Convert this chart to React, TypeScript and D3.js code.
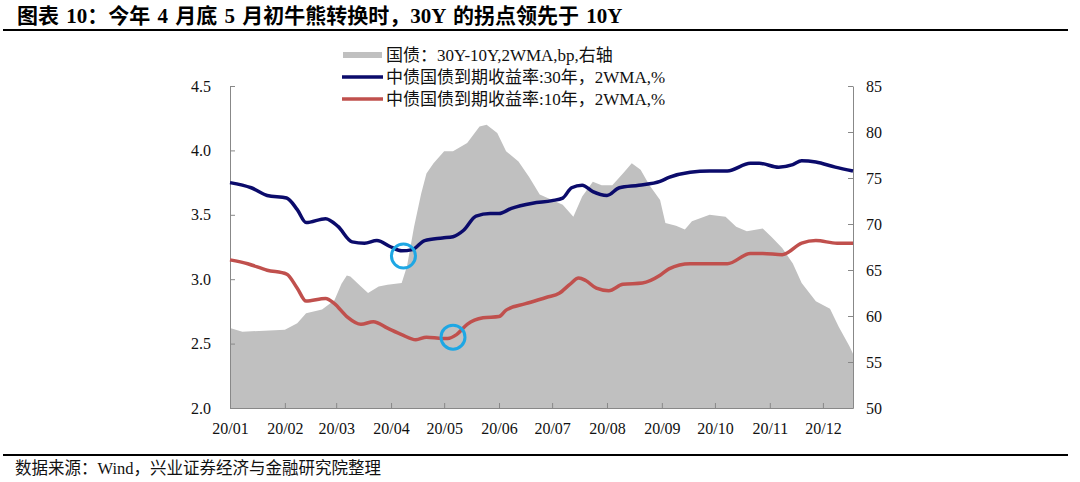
import React, { useRef, useEffect } from "react";
import * as d3 from "d3";

const TITLE = "图表 10：今年 4 月底 5 月初牛熊转换时，30Y 的拐点领先于 10Y";
const SOURCE = "数据来源：Wind，兴业证券经济与金融研究院整理";

const legendLabels = [
  "国债：30Y-10Y,2WMA,bp,右轴",
  "中债国债到期收益率:30年，2WMA,%",
  "中债国债到期收益率:10年，2WMA,%",
];

// 30Y-10Y spread, bp, right axis
const spreadDates = [
  "01-01", "01-08", "02-01", "02-08", "02-13", "02-22", "02-29", "03-04",
  "03-07", "03-09", "03-15", "03-19", "03-25", "03-30", "04-07", "04-10",
  "04-14", "04-18", "04-21", "04-25", "05-01", "05-06", "05-14", "05-21",
  "05-25", "05-31", "06-05", "06-12", "06-18", "06-24", "07-01", "07-07",
  "07-13", "07-18", "07-24", "07-29", "08-04", "08-10", "08-15", "08-20",
  "08-25", "08-31", "09-03", "09-09", "09-14", "09-18", "09-28", "10-07",
  "10-13", "10-19", "10-28", "11-02", "11-08", "11-14", "11-19", "11-27",
  "12-05", "12-10", "12-16", "12-18",
];
const spreadBp = [
  58.7, 58.3, 58.5, 59.2, 60.3, 60.7, 61.7, 63.5,
  64.4, 64.3, 63.2, 62.5, 63.2, 63.4, 63.6, 65.4,
  69.7, 73.3, 75.5, 76.6, 77.9, 77.9, 78.8, 80.6,
  80.8, 79.9, 77.9, 76.8, 75.1, 73.2, 72.6, 72.1,
  70.8, 73.0, 74.6, 74.2, 74.2, 75.5, 76.6, 75.9,
  74.2, 72.6, 70.1, 69.8, 69.4, 70.3, 71.0, 70.8,
  69.7, 69.2, 69.5, 68.6, 67.4, 65.7, 63.6, 61.6,
  60.8, 58.8, 56.7, 55.9,
];

// 30Y yield, %, left axis
const y30Dates = [
  "01-01", "01-13", "01-22", "02-02", "02-08", "02-13", "02-24", "03-02",
  "03-10", "03-17", "03-24", "04-01", "04-07", "04-13", "04-20", "04-30",
  "05-06", "05-12", "05-19", "05-27", "06-01", "06-08", "06-20", "07-01",
  "07-07", "07-12", "07-18", "07-24", "08-01", "08-08", "08-19", "08-31",
  "09-05", "09-17", "09-28", "10-08", "10-21", "10-26", "11-06", "11-14",
  "11-19", "11-27", "12-08", "12-18",
];
const y30Values = [
  3.75, 3.71, 3.65, 3.63, 3.54, 3.44, 3.47, 3.41,
  3.29, 3.28, 3.3, 3.25, 3.22, 3.23, 3.3, 3.32,
  3.33, 3.38, 3.49, 3.51, 3.51, 3.55, 3.59, 3.61,
  3.63, 3.71, 3.73, 3.68, 3.65, 3.71, 3.73, 3.76,
  3.79, 3.83, 3.84, 3.84, 3.9, 3.9, 3.87, 3.89,
  3.92, 3.91, 3.87, 3.84,
];

// 10Y yield, %, left axis
const y10Dates = [
  "01-01", "01-11", "01-22", "02-02", "02-08", "02-13", "02-24", "02-29",
  "03-07", "03-15", "03-22", "03-30", "04-07", "04-15", "04-21", "04-30",
  "05-03", "05-08", "05-14", "05-23", "06-01", "06-05", "06-16", "06-28",
  "07-05", "07-11", "07-16", "07-20", "07-26", "08-02", "08-10", "08-21",
  "08-31", "09-05", "09-17", "10-08", "10-21", "10-28", "11-08", "11-19",
  "11-27", "12-09", "12-18",
];
const y10Values = [
  3.15, 3.12, 3.07, 3.04, 2.93, 2.83, 2.85, 2.81,
  2.71, 2.65, 2.67, 2.62, 2.57, 2.53, 2.55, 2.54,
  2.54, 2.57, 2.65, 2.7, 2.71, 2.76, 2.81, 2.86,
  2.89, 2.96, 3.01, 2.99, 2.93, 2.91, 2.96, 2.97,
  3.03, 3.08, 3.12, 3.12, 3.2, 3.2, 3.19, 3.28,
  3.3, 3.28, 3.28,
];

// turning points marked with circles
const markDates = ["04-08", "05-06"];
const markValues = [3.18, 2.55];

const leftTicks = [2.0, 2.5, 3.0, 3.5, 4.0, 4.5];
const rightTicks = [50, 55, 60, 65, 70, 75, 80, 85];

const parseDay = d3.timeParse("%Y-%m-%d");
const toDate = (s: string) => parseDay("2020-" + s) as Date;

const GRAY = "#c0c0c0";
const NAVY = "#0b0b6b";
const RED = "#c0504d";
const CYAN = "#1ea7e4";
const SERIF = "'Liberation Serif', 'Noto Sans CJK SC', serif";

export default function App() {
  const xAxisRef = useRef<SVGGElement>(null);
  const leftAxisRef = useRef<SVGGElement>(null);
  const rightAxisRef = useRef<SVGGElement>(null);

  const width = 1080;
  const height = 482;
  const plot = { left: 230, right: 853, top: 86, bottom: 408 };

  const x = d3
    .scaleTime()
    .domain([toDate("01-01"), toDate("12-18")])
    .range([plot.left, plot.right]);
  const yL = d3.scaleLinear().domain([2, 4.5]).range([plot.bottom, plot.top]);
  const yR = d3.scaleLinear().domain([50, 85]).range([plot.bottom, plot.top]);

  const spread = spreadDates.map((d, i) => ({ date: toDate(d), v: spreadBp[i] }));
  const y30 = y30Dates.map((d, i) => ({ date: toDate(d), v: y30Values[i] }));
  const y10 = y10Dates.map((d, i) => ({ date: toDate(d), v: y10Values[i] }));

  const area = d3
    .area<{ date: Date; v: number }>()
    .x((d) => x(d.date))
    .y0(yR(50))
    .y1((d) => yR(d.v));

  const line = d3
    .line<{ date: Date; v: number }>()
    .x((d) => x(d.date))
    .y((d) => yL(d.v))
    .curve(d3.curveMonotoneX);

  useEffect(() => {
    const monthTicks = d3.timeMonth.range(toDate("01-01"), toDate("12-02"));

    const style = (g: d3.Selection<SVGGElement, unknown, null, undefined>) => {
      g.attr("font-family", SERIF).attr("font-size", 16);
      g.selectAll(".domain").attr("stroke", "#888");
      g.selectAll(".tick line").attr("stroke", "#888");
      g.selectAll(".tick text").attr("fill", "#111");
    };

    d3.select(xAxisRef.current!)
      .call(
        d3
          .axisBottom(x)
          .tickValues(monthTicks)
          .tickFormat(d3.timeFormat("%y/%m") as any)
          .tickSizeInner(-5)
          .tickSizeOuter(0)
          .tickPadding(15),
      )
      .call(style);

    d3.select(leftAxisRef.current!)
      .call(
        d3
          .axisLeft(yL)
          .tickValues(leftTicks)
          .tickFormat(d3.format(".1f"))
          .tickSizeInner(-5)
          .tickSizeOuter(0)
          .tickPadding(19),
      )
      .call(style);

    d3.select(rightAxisRef.current!)
      .call(
        d3
          .axisRight(yR)
          .tickValues(rightTicks)
          .tickFormat(d3.format("d"))
          .tickSizeInner(-5)
          .tickSizeOuter(0)
          .tickPadding(13),
      )
      .call(style);
  }, []);

  return (
    <svg
      width={width}
      height={height}
      style={{ position: "absolute", left: 0, top: 0, background: "#fff" }}
    >
      <text
        x={17}
        y={23}
        fontFamily={SERIF}
        fontWeight="bold"
        fontSize={21}
        wordSpacing={2}
        fill="#000"
      >
        {TITLE}
      </text>
      <line x1={3} x2={1068} y1={30} y2={30} stroke="#000" strokeWidth={2} />

      {/* legend */}
      <g fontFamily={SERIF} fontSize={17} fill="#111">
        <rect x={343} y={52} width={39} height={6} fill={GRAY} />
        <text x={386} y={61}>{legendLabels[0]}</text>
        <line x1={342} x2={383} y1={77} y2={77} stroke={NAVY} strokeWidth={3.5} />
        <text x={386} y={83}>{legendLabels[1]}</text>
        <line x1={342} x2={383} y1={99} y2={99} stroke={RED} strokeWidth={3.5} />
        <text x={386} y={105}>{legendLabels[2]}</text>
      </g>

      <path d={area(spread) ?? ""} fill={GRAY} />

      <g ref={xAxisRef} transform={`translate(0,${plot.bottom})`} />
      <g ref={leftAxisRef} transform={`translate(${plot.left},0)`} />
      <g ref={rightAxisRef} transform={`translate(${plot.right},0)`} />

      <path d={line(y30) ?? ""} fill="none" stroke={NAVY} strokeWidth={3.5} strokeLinejoin="round" />
      <path d={line(y10) ?? ""} fill="none" stroke={RED} strokeWidth={3.5} strokeLinejoin="round" />

      {markDates.map((d, i) => (
        <circle
          key={d}
          cx={x(toDate(d))}
          cy={yL(markValues[i])}
          r={12}
          fill="none"
          stroke={CYAN}
          strokeWidth={3}
        />
      ))}

      <line x1={3} x2={1068} y1={455} y2={455} stroke="#000" strokeWidth={2} />
      <text x={15} y={474} fontFamily={SERIF} fontSize={16.5} fill="#111">
        {SOURCE}
      </text>
    </svg>
  );
}
